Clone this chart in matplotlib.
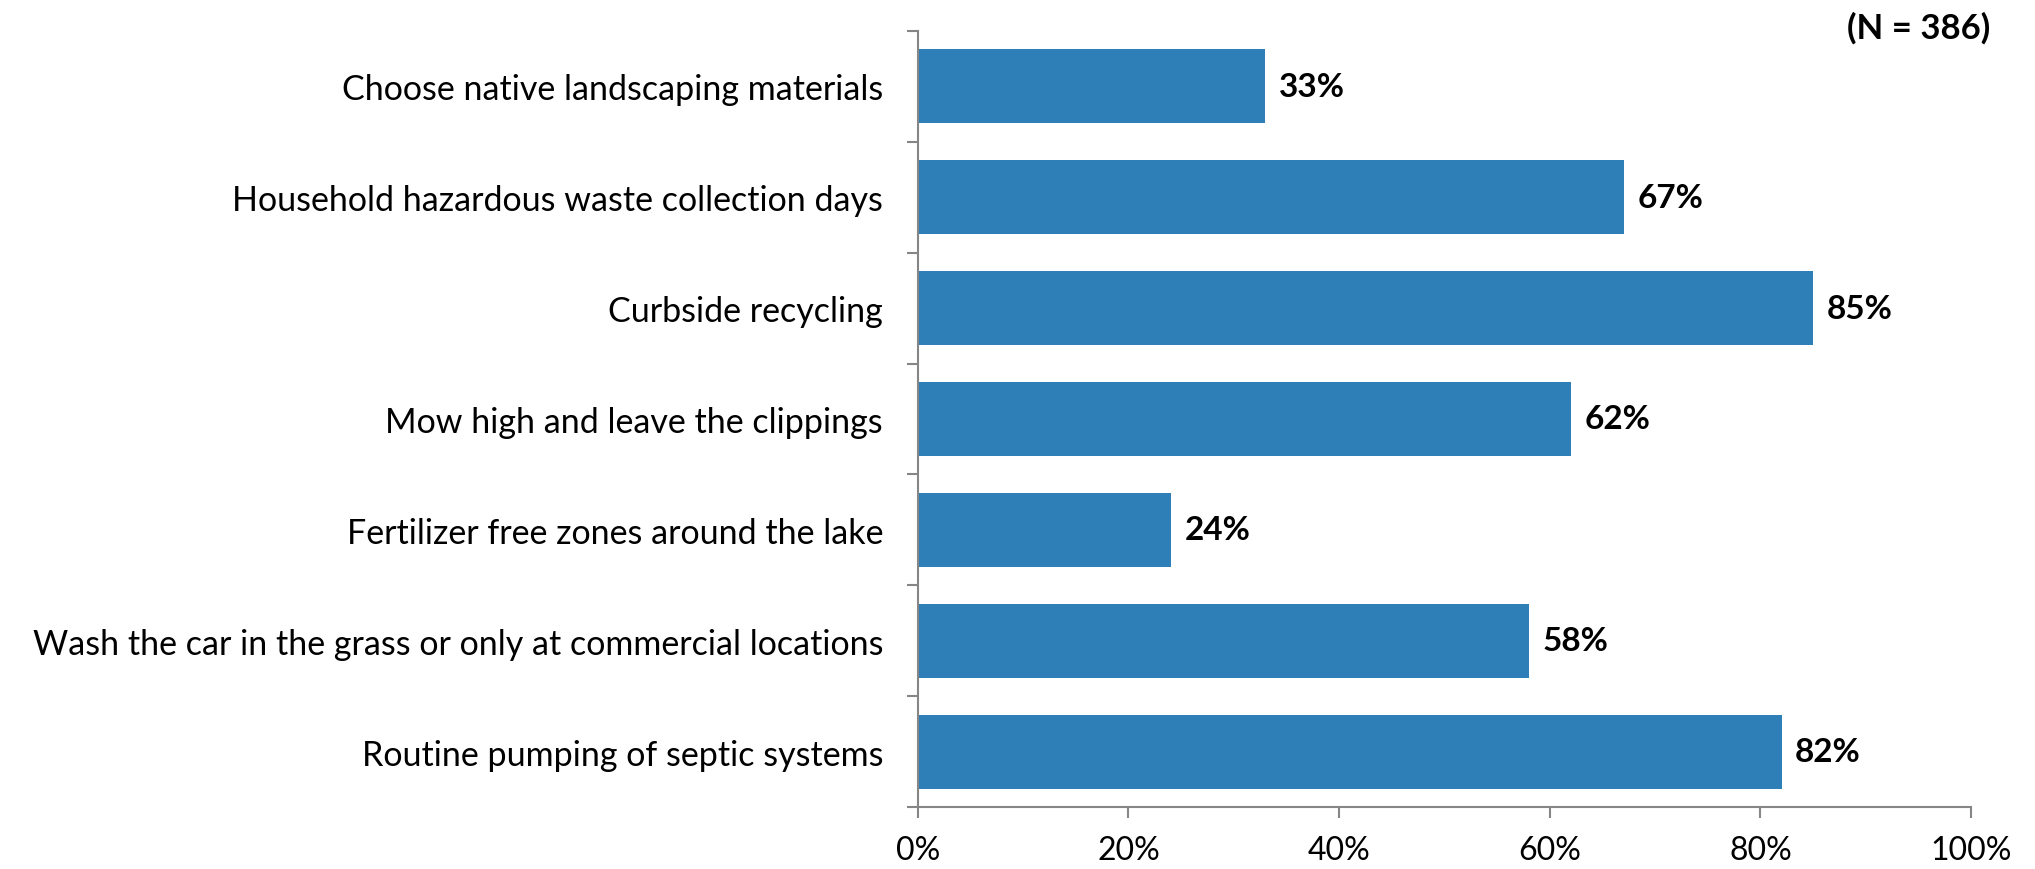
import matplotlib.pyplot as plt
import numpy as np

# survey items, top to bottom as in the chart
categories = [
    "Choose native landscaping materials",
    "Household hazardous waste collection days",
    "Curbside recycling",
    "Mow high and leave the clippings",
    "Fertilizer free zones around the lake",
    "Wash the car in the grass or only at commercial locations",
    "Routine pumping of septic systems",
]
values = [33, 67, 85, 62, 24, 58, 82]
x_ticks = [0, 20, 40, 60, 80, 100]
x_tick_labels = ["0%", "20%", "40%", "60%", "80%", "100%"]
sample_note = "(N = 386)"

plt.rcParams['font.family'] = ['Lato', 'DejaVu Sans']

fig = plt.figure(figsize=(20.35, 8.7), dpi=100)
ax = fig.add_axes([0.451, 0.0713, 0.5176, 0.8919])

n = len(categories)
ypos = np.arange(n)[::-1]
ax.barh(ypos, values, height=0.667, color='#2E7EB8')

for y, v in zip(ypos, values):
    ax.text(v + 1.3, y, f"{v}%", va='center', ha='left', fontsize=24,
            fontweight='bold', color='black')

ax.set_xlim(0, 100)
ax.set_ylim(-0.5, n - 0.5)
ax.set_xticks(x_ticks)
ax.set_xticklabels(x_tick_labels, fontsize=23)

# category labels sit between boundary ticks
ax.set_yticks(ypos)
ax.set_yticklabels(categories, fontsize=24.5)
ax.tick_params(axis='y', which='major', length=0, pad=25)
ax.set_yticks(np.arange(n + 1) - 0.5, minor=True)
ax.tick_params(axis='y', which='minor', length=8, color='#868686', width=1.5)
ax.tick_params(axis='x', length=8, color='#868686', width=1.5, pad=12)

for side in ['top', 'right']:
    ax.spines[side].set_visible(False)
for side in ['left', 'bottom']:
    ax.spines[side].set_color('#868686')
    ax.spines[side].set_linewidth(1.5)

fig.text(0.978, 0.968, sample_note, ha='right', va='center', fontsize=25,
         fontweight='bold')

plt.savefig('out.png', format='png', dpi=100)
plt.close()
